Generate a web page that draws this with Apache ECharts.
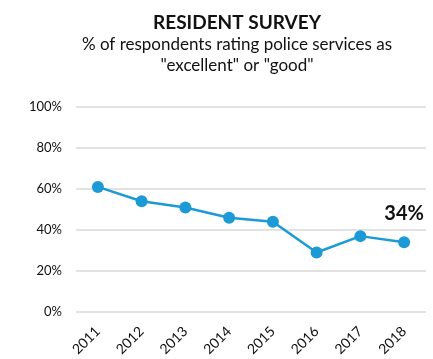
<!DOCTYPE html>
<html><head><meta charset="utf-8">
<script src="https://cdn.jsdelivr.net/npm/echarts@6/dist/echarts.min.js"></script>
<style>html,body{margin:0;padding:0;background:#fff}#c{width:433px;height:359px}</style>
</head><body><div id="c"></div>
<script>
const years = ['2011','2012','2013','2014','2015','2016','2017','2018'];
const ratings = [61, 54, 51, 46, 44, 29, 37, 34];
const yTicks = [0, 20, 40, 60, 80, 100];
const titleText = 'RESIDENT SURVEY';
const subtitleText = '% of respondents rating police services as\n"excellent" or "good"';

const FONT = 'Lato, "Open Sans", sans-serif';
const lastLabel = {show: true, position: 'top', distance: 13, formatter: '{c}%',
  fontFamily: FONT, fontWeight: 'bold', fontSize: 20, color: '#111'};
const chart = echarts.init(document.getElementById('c'), null, {renderer:'canvas'});
chart.setOption({
  animation: false,
  title: {
    text: titleText,
    subtext: subtitleText,
    left: 232, top: 8, textAlign: 'center',
    itemGap: 2,
    textStyle: {fontFamily: FONT, fontWeight: 'bold', fontSize: 19, color: '#111'},
    subtextStyle: {fontFamily: FONT, fontSize: 17, color: '#111', lineHeight: 21, align: 'center'}
  },
  grid: {left: 76, right: 7, top: 107, bottom: 45},
  xAxis: {
    type: 'category', data: years, boundaryGap: true,
    axisLine: {show: false}, axisTick: {show: false},
    axisLabel: {rotate: 45, fontFamily: FONT, fontSize: 14, color: '#111', margin: 17}
  },
  yAxis: {
    type: 'value', min: yTicks[0], max: yTicks[yTicks.length-1], interval: 20,
    axisLine: {show: false}, axisTick: {show: false},
    axisLabel: {formatter: '{value}%', fontFamily: FONT, fontSize: 13, color: '#111', margin: 14},
    splitLine: {lineStyle: {color: '#d9d9d9', width: 1.5}}
  },
  series: [{
    type: 'line', data: ratings.map((v, i) => i === ratings.length - 1 ? {value: v, label: lastLabel} : v),
    symbol: 'circle', symbolSize: 12,
    lineStyle: {color: '#1c9ad6', width: 2.5},
    itemStyle: {color: '#1c9ad6'},
    label: {show: false}
  }]
});
</script></body></html>
